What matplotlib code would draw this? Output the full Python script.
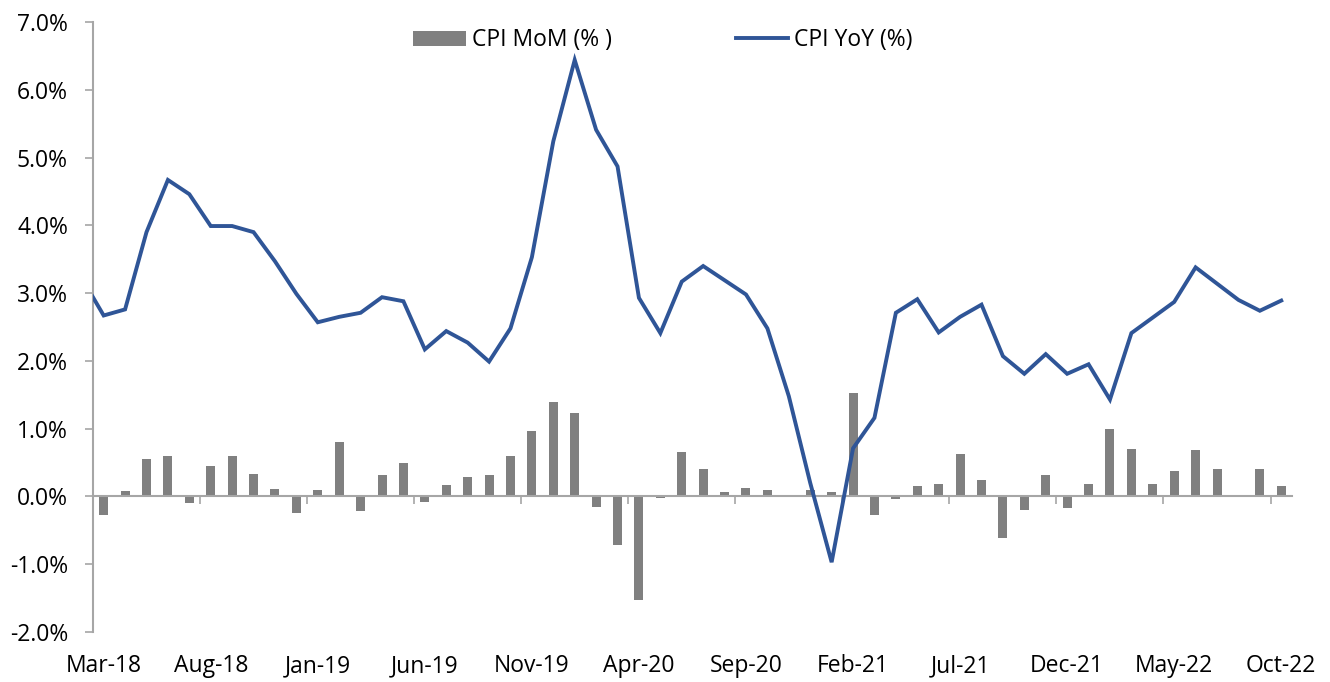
import numpy as np
import pandas as pd
import matplotlib
matplotlib.use('Agg')
import matplotlib.pyplot as plt
from matplotlib.ticker import FuncFormatter

plt.rcParams['font.family'] = ['Open Sans', 'DejaVu Sans']

# monthly CPI, Mar-18 .. Oct-22
months = pd.date_range('2018-03-01', periods=56, freq='MS').strftime('%b-%y').tolist()

# month-on-month change (%)
cpi_mom = [-0.27, 0.08, 0.55, 0.60, -0.09, 0.45, 0.59, 0.33, 0.11, -0.25,
           0.10, 0.80, -0.21, 0.31, 0.49, -0.08, 0.17, 0.28, 0.31, 0.59,
           0.96, 1.40, 1.23, -0.16, -0.71, -1.53, -0.03, 0.65, 0.40, 0.07,
           0.12, 0.09, -0.01, 0.10, 0.06, 1.52, -0.27, -0.04, 0.16, 0.19,
           0.62, 0.25, -0.62, -0.20, 0.31, -0.17, 0.19, 1.00, 0.70, 0.18,
           0.38, 0.69, 0.40, 0.00, 0.40, 0.15]

# year-on-year (%), series starts one month earlier (Feb-18)
cpi_yoy = [3.21, 2.67, 2.76, 3.90, 4.67, 4.46, 3.99, 3.99, 3.90, 3.47, 2.99,
           2.57, 2.65, 2.71, 2.94, 2.88, 2.17, 2.44, 2.27, 1.99, 2.48,
           3.53, 5.24, 6.44, 5.41, 4.87, 2.93, 2.41, 3.17, 3.40, 3.19,
           2.98, 2.48, 1.48, 0.20, -0.97, 0.71, 1.16, 2.71, 2.91, 2.42,
           2.65, 2.83, 2.07, 1.81, 2.10, 1.81, 1.95, 1.43, 2.41, 2.64,
           2.87, 3.38, 3.14, 2.90, 2.74, 2.89]

label_step = 5
tick_labels = months[::label_step]

x = np.arange(len(months))
x_yoy = np.arange(len(cpi_yoy)) - (len(cpi_yoy) - len(months))

axis_grey = '#a6a6a6'

fig = plt.figure(figsize=(13.3, 6.82), dpi=100)
ax = fig.add_axes([0.0699, 0.0733, 0.9015, 0.8944])

# bars and line
bars = ax.bar(x, cpi_mom, width=0.42, color='#808080', zorder=2, label='CPI MoM (% )')
line, = ax.plot(x_yoy, cpi_yoy, color='#2f5597', lw=2.8, zorder=3,
                solid_joinstyle='miter', label='CPI YoY (%)')

ax.set_xlim(-0.5, len(months) - 0.5)
ax.set_ylim(-2, 7)

# y axis
ax.set_yticks(np.arange(-2, 8, 1))
ax.yaxis.set_major_formatter(FuncFormatter(lambda v, p: f'{v:.1f}%'))
ax.tick_params(axis='y', length=6, width=1.2, color=axis_grey, pad=12,
               labelsize=16.5, labelcolor='black')

# x axis sits on zero, ticks between groups of 5 months
ax.spines['bottom'].set_position(('data', 0))
ax.set_xticks(np.arange(-0.5, len(months) - 1, label_step))
ax.tick_params(axis='x', length=6, width=1.2, color=axis_grey, labelbottom=False)

for s in ['top', 'right']:
    ax.spines[s].set_visible(False)
for s in ['left', 'bottom']:
    ax.spines[s].set_color(axis_grey)
    ax.spines[s].set_linewidth(1.5)

# month labels along the bottom edge
sec = ax.secondary_xaxis(0.0)
sec.set_xticks(x[::label_step], labels=tick_labels)
sec.tick_params(length=0, pad=16, labelsize=16.5)
sec.spines['bottom'].set_visible(False)

fig.legend(handles=[bars, line], loc='center', bbox_to_anchor=(0.4985, 0.941),
           ncol=2, frameon=False, fontsize=16.5, handlelength=2.3,
           handletextpad=0.25, columnspacing=5.4, handleheight=0.65)

fig.savefig('out.png', dpi=100)
